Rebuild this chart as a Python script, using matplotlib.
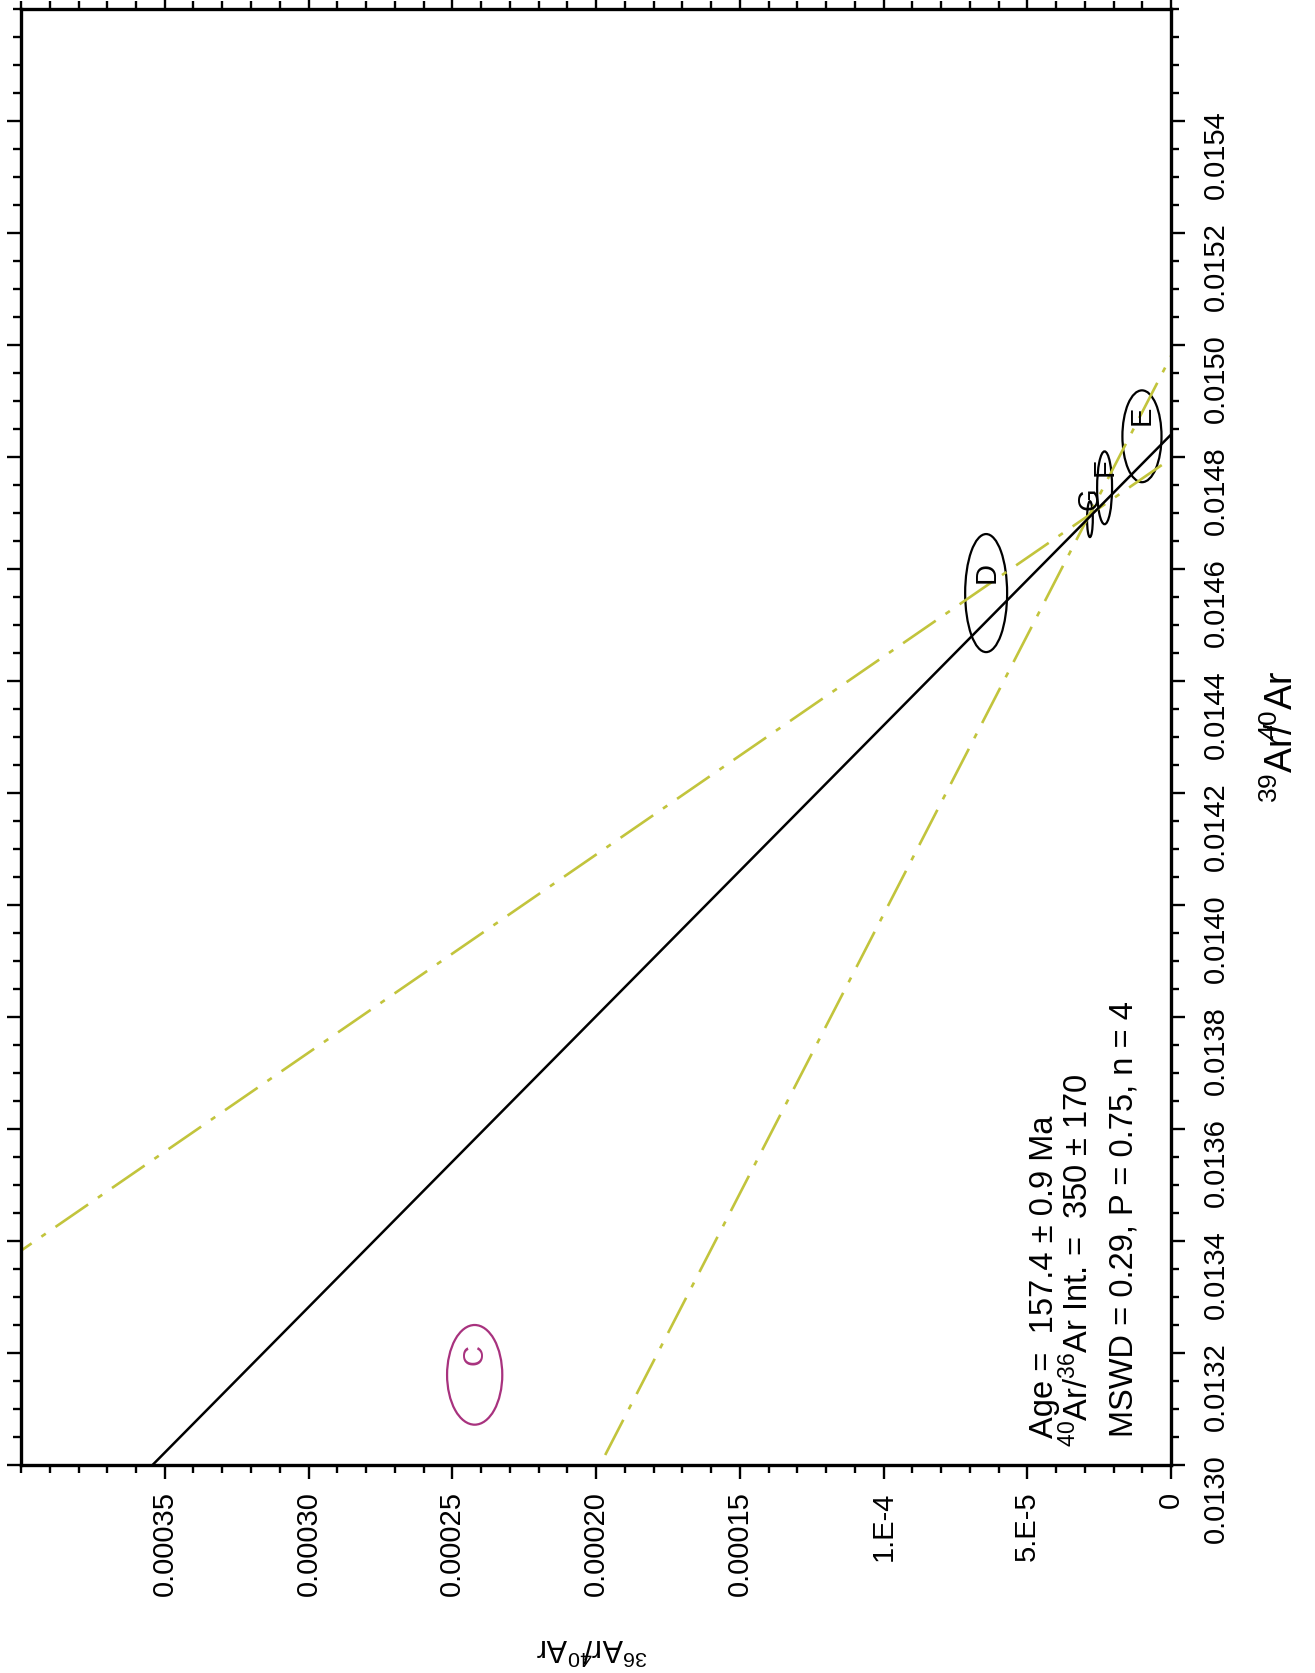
import matplotlib.pyplot as plt
import numpy as np
from matplotlib.patches import Ellipse
from matplotlib.ticker import FixedLocator, FixedFormatter, MultipleLocator

plt.rcParams['font.family'] = ['Liberation Sans', 'DejaVu Sans']
plt.rcParams['mathtext.fontset'] = 'custom'
plt.rcParams['mathtext.rm'] = 'Liberation Sans'
plt.rcParams['mathtext.it'] = 'Liberation Sans:italic'
plt.rcParams['mathtext.bf'] = 'Liberation Sans:bold'

# heating steps with 39Ar/40Ar, 36Ar/40Ar and ellipse half-axes
steps = ["C", "D", "G", "F", "E"]
ar39_40 = [0.013161, 0.014557, 0.014689, 0.014745, 0.014837]
ar36_40 = [2.422e-4, 6.43e-5, 2.82e-5, 2.31e-5, 1.01e-5]
err39 = [8.9e-5, 1.054e-4, 3.2e-5, 6.5e-5, 8.2e-5]
err36 = [9.6e-6, 7.3e-6, 1.0e-6, 2.6e-6, 6.8e-6]
used = [False, True, True, True, True]

# isochron from trapped 40Ar/36Ar and the 39Ar/40Ar intercept
trapped = 350
x_int = 0.01484
# error envelope lines: 36Ar/40Ar intercepts and 39Ar/40Ar intercepts
env_y0 = [4.185e-3, 1.5025e-3]
env_x0 = [0.014797, 0.01498]

x_ticks = [0, 5e-5, 1e-4, 1.5e-4, 2e-4, 2.5e-4, 3e-4, 3.5e-4]
x_labels = ["0", "5.E-5", "1.E-4", "0.00015", "0.00020", "0.00025", "0.00030", "0.00035"]
y_ticks = np.arange(0.0130, 0.01541, 0.0002)

stats = ["Age =  157.4 ± 0.9 Ma",
         r"$^{40}$Ar/$^{36}$Ar Int. =  350 ± 170",
         "MSWD = 0.29, P = 0.75, n = 4"]

fig = plt.figure(figsize=(13.15, 16.73), dpi=100)
ax = fig.add_axes([21/1315, 1 - 1465/1673, 1150/1315, 1456/1673])
ax.set_xlim(0.0004, 0)
ax.set_ylim(0.0130, 0.0156)

xs = np.linspace(0.0128, 0.0158, 300)
env_color = "#c2c43c"
for y0, x0 in zip(env_y0, env_x0):
    ax.plot(y0 * (1 - xs / x0), xs, color=env_color, lw=1.9,
            linestyle=(0, (15, 4.5, 2, 4.5)))
ax.plot((1 / trapped) * (1 - xs / x_int), xs, color="black", lw=1.8)

for s, x, y, ex, ey, u in zip(steps, ar39_40, ar36_40, err39, err36, used):
    c = "black" if u else "#a8327e"
    ax.add_patch(Ellipse((y, x), 2 * ey, 2 * ex, fill=False, ec=c, lw=1.6))
    ax.annotate(s, (y, x), xytext=(0, 15), textcoords="offset points",
                rotation=90, ha="center", va="center", fontsize=21, color=c)

tx = [0.8974, 0.9278, 0.9661]
ty = [0.0185, 0.0124, 0.0192]
for t, x, y in zip(stats, tx, ty):
    ax.text(x, y, t, transform=ax.transAxes, rotation=90, rotation_mode="anchor",
            ha="left", va="baseline", fontsize=23.5)

ax.xaxis.set_major_locator(FixedLocator(x_ticks))
ax.xaxis.set_major_formatter(FixedFormatter(x_labels))
ax.xaxis.set_minor_locator(MultipleLocator(1e-5))
ax.yaxis.set_major_locator(FixedLocator(y_ticks))
ax.yaxis.set_major_formatter(FixedFormatter(["%.4f" % v for v in y_ticks]))
ax.yaxis.set_minor_locator(MultipleLocator(5e-5))

ax.tick_params(which="both", direction="out", top=True, bottom=True,
               left=True, right=True, labelleft=False, labelright=True,
               labeltop=False, labelbottom=True, width=1.7)
ax.tick_params(which="major", length=10)
ax.tick_params(which="minor", length=5.5)
ax.tick_params(axis="x", labelrotation=90, labelsize=21, pad=9)
ax.tick_params(axis="y", labelrotation=90, labelsize=21, pad=12)
for sp in ax.spines.values():
    sp.set_linewidth(2.4)

ax.set_xlabel(r"$^{36}$Ar/$\!\!^{40}$Ar", fontsize=22, rotation=180, va="center")
ax.xaxis.set_label_coords(0.4965, -0.125)
ax.yaxis.set_label_position("right")
ax.set_ylabel(r"$^{39}$Ar/$\!\!\!^{40}$Ar", fontsize=27, rotation=90, va="center")
ax.yaxis.set_label_coords(1.0965, 0.5)

fig.savefig("out.png", dpi=100)
